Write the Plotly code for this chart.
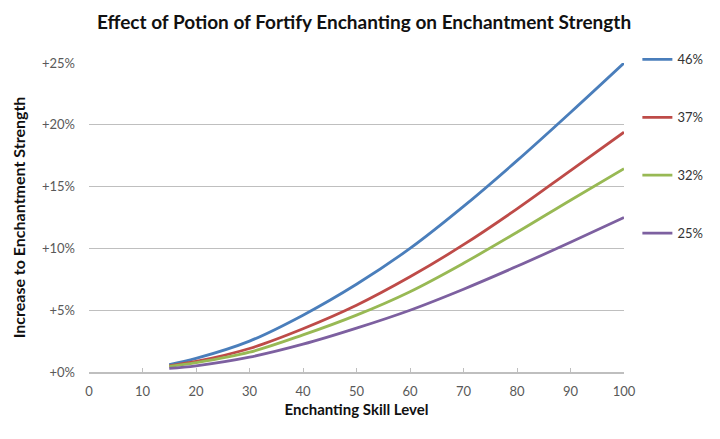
import plotly.graph_objects as go

skill = [15, 20, 30, 40, 50, 60, 70, 80, 90, 100]

series_names = ["46%", "37%", "32%", "25%"]
blue_46 = [0.6, 1.1, 2.5, 4.6, 7.1, 10.0, 13.4, 17.1, 21.0, 25.0]
red_37 = [0.5, 0.85, 1.9, 3.5, 5.4, 7.7, 10.3, 13.2, 16.3, 19.4]
green_32 = [0.45, 0.75, 1.6, 3.0, 4.6, 6.5, 8.8, 11.3, 13.9, 16.45]
purple_25 = [0.3, 0.5, 1.2, 2.25, 3.55, 5.0, 6.7, 8.55, 10.5, 12.5]

colors = ["#4A7EBB", "#BE4B48", "#98B954", "#7D60A0"]

y_tickvals = [0, 5, 10, 15, 20, 25]
y_ticktext = ["+0%", "+5%", "+10%", "+15%", "+20%", "+25%"]
x_tickvals = [0, 10, 20, 30, 40, 50, 60, 70, 80, 90, 100]

FONT = "Lato"

fig = go.Figure()
for name, ys, c in zip(series_names, [blue_46, red_37, green_32, purple_25], colors):
    fig.add_trace(go.Scatter(
        x=skill, y=ys, name=name, mode="lines",
        line=dict(color=c, width=2.8, shape="spline", smoothing=1.0),
        legendgroup=name,
    ))

fig.update_layout(
    width=720, height=439,
    margin=dict(l=89, r=92, t=63, b=67),
    paper_bgcolor="white", plot_bgcolor="white",
    font=dict(family=FONT, color="#595959", size=13),
    title=dict(
        text="<b>Effect of Potion of Fortify Enchanting on Enchantment Strength</b>",
        x=364 / 720, xanchor="center", y=1 - 22 / 439, yanchor="middle",
        font=dict(family=FONT, size=19, color="#111111"),
    ),
    showlegend=True,
    legend=dict(
        x=1.025, xanchor="left", y=1.06, yanchor="top",
        font=dict(family=FONT, size=13, color="#333333"),
        tracegroupgap=38, itemwidth=30, bgcolor="rgba(0,0,0,0)",
    ),
    xaxis=dict(
        range=[0, 100], tickvals=x_tickvals, showgrid=False, zeroline=False,
        showline=True, linecolor="#BFBFBF", linewidth=1.5,
        ticks="inside", ticklen=4, tickcolor="#BFBFBF",
        ticklabelstandoff=7,
        tickfont=dict(family=FONT, size=13, color="#595959"),
        title=dict(text="<b>Enchanting Skill Level</b>", standoff=6,
                   font=dict(family=FONT, size=15, color="#111111")),
    ),
    yaxis=dict(
        range=[0, 25], tickvals=y_tickvals, ticktext=y_ticktext,
        showgrid=True, gridcolor="#BFBFBF", gridwidth=1.2,
        zeroline=False, showline=False, ticks="",
        ticklabelstandoff=13,
        tickfont=dict(family=FONT, size=13, color="#595959"),
        title=dict(text="<b>Increase to Enchantment Strength</b>", standoff=12,
                   font=dict(family=FONT, size=16, color="#111111")),
    ),
)

fig.write_html("out.html")
